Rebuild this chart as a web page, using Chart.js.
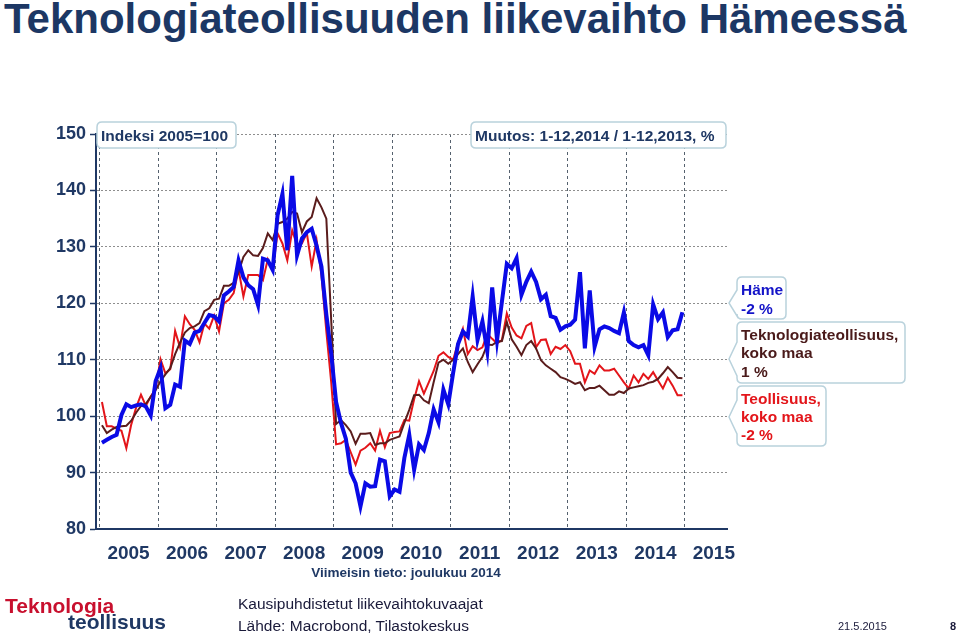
<!DOCTYPE html>
<html>
<head>
<meta charset="utf-8">
<script src="https://cdn.jsdelivr.net/npm/chart.js@4"></script>
<style>
  body { margin: 0; background: #fff; }
  #wrap { position: relative; width: 960px; height: 635px; overflow: hidden; font-family: "Liberation Sans", Arial, sans-serif; }
  #chart { position: absolute; left: 0; top: 0; }
  #notes { position: absolute; left: 0; top: 0; }
  .txt { position: absolute; white-space: nowrap; }
</style>
</head>
<body>
<div id="wrap">
  <div class="txt" style="left:4px;top:-5px;font-size:42px;font-weight:bold;color:#1c3764;">Teknologiateollisuuden liikevaihto Hämeessä</div>
  <canvas id="chart" width="960" height="635"></canvas>
  <svg id="notes" width="960" height="635"></svg>
  <div class="txt" style="left:0;width:812px;top:565px;text-align:center;font-size:13.5px;font-weight:bold;color:#1f3864;">Viimeisin tieto: joulukuu 2014</div>
  <div class="txt" style="left:5px;top:594px;font-size:21px;font-weight:bold;color:#c8102e;">Teknologia</div>
  <div class="txt" style="left:68px;top:610px;font-size:21px;font-weight:bold;color:#1f3864;">teollisuus</div>
  <div class="txt" style="left:238px;top:595px;font-size:15.5px;color:#1a1a3a;">Kausipuhdistetut liikevaihtokuvaajat</div>
  <div class="txt" style="left:238px;top:617px;font-size:15.5px;color:#1a1a3a;">Lähde: Macrobond, Tilastokeskus</div>
  <div class="txt" style="left:838px;top:620px;font-size:11px;color:#1a1a3a;">21.5.2015</div>
  <div class="txt" style="left:950px;top:620px;font-size:11px;font-weight:bold;color:#1a1a3a;">8</div>
</div>
<script>
// Monthly index values, 2005=100 (Jan 2005 .. Dec 2014)
const startYear = 2005;
const yearLabels = ['2005', '2006', '2007', '2008', '2009', '2010', '2011', '2012', '2013', '2014', '2015'];
const yTicks = [80, 90, 100, 110, 120, 130, 140, 150];

const hame = [
    95.3, 95.8, 96.3, 96.7, 100.2, 102.1, 101.6, 101.9, 102.1, 101.7, 100.1, 106.2,
    108.5, 101.4, 102.0, 105.6, 105.2, 113.4, 112.8, 114.8, 115.1, 116.5, 117.9, 117.7,
    116.8, 121.4, 122.1, 122.9, 127.6, 124.6, 123.2, 122.5, 119.7, 127.9, 127.6, 125.9,
    135.6, 139.4, 129.4, 142.6, 128.5, 131.5, 132.6, 133.2, 130.2, 126.5, 118.0, 111.0,
    102.5, 98.8, 96.0, 90.0, 88.1, 84.0, 88.1, 87.5, 87.6, 92.3, 92.0, 85.8,
    87.0, 86.6, 92.6, 96.7, 90.5, 95.0, 94.0, 97.0, 101.2, 98.9, 104.7, 102.1,
    107.7, 112.8, 115.0, 114.1, 121.2, 113.5, 116.8, 111.5, 122.8, 113.5, 120.3, 127.0,
    126.2, 128.0, 121.5, 123.8, 125.6, 123.8, 120.7, 121.5, 117.7, 117.4, 115.3, 115.9,
    116.2, 117.1, 125.5, 112.0, 122.3, 112.3, 115.4, 115.9, 115.6, 115.1, 114.7, 118.4,
    113.3, 112.6, 112.2, 112.6, 110.8, 119.8, 117.2, 118.4, 114.0, 115.2, 115.4, 118.4
];

const tekno = [
    98.4, 97.0, 97.6, 98.1, 98.2, 98.3, 99.2, 100.6, 101.8, 102.2, 103.4, 104.6,
    106.2, 107.4, 108.5, 111.0, 113.0, 114.8, 115.6, 115.9, 116.5, 118.6, 119.1, 120.6,
    120.8, 123.1, 123.1, 123.6, 125.5, 128.2, 129.4, 128.5, 128.4, 129.8, 132.4, 131.2,
    134.1, 134.4, 135.0, 136.2, 135.9, 132.6, 134.5, 135.3, 138.6, 137.0, 135.0, 117.0,
    98.6, 99.3, 98.4, 97.3, 95.1, 96.9, 96.9, 97.0, 94.9, 95.2, 95.2, 95.8,
    96.1, 96.4, 98.8, 101.1, 103.7, 103.8, 102.8, 102.3, 106.0, 109.5, 110.0, 109.3,
    110.0, 111.0, 112.0, 109.6, 107.8, 109.2, 110.5, 112.7, 112.6, 113.2, 113.3, 116.7,
    113.6, 112.3, 110.8, 112.6, 113.3, 112.0, 109.9, 109.0, 108.4, 107.8, 106.9, 106.6,
    106.2, 105.7, 106.0, 104.6, 105.0, 105.0, 105.4, 104.6, 103.8, 103.8, 104.4, 104.1,
    104.9, 105.1, 105.3, 105.5, 105.9, 106.1, 106.6, 107.6, 108.7, 107.8, 106.8, 106.7
];

const teoll = [
    102.5, 98.2, 98.2, 97.8, 97.4, 94.3, 98.5, 101.5, 103.8, 101.8, 103.5, 104.8,
    110.1, 107.6, 108.3, 115.1, 112.2, 117.7, 116.3, 115.3, 113.1, 116.4, 115.5, 117.8,
    115.0, 120.0, 120.6, 121.8, 126.0, 121.2, 125.0, 125.0, 125.0, 124.1, 127.8, 125.9,
    132.4, 130.6, 127.6, 132.9, 130.3, 130.6, 132.5, 126.5, 131.2, 125.0, 115.0, 106.0,
    95.0, 95.2, 95.8, 93.6, 91.4, 93.9, 94.4, 95.2, 93.9, 97.4, 94.5, 97.0,
    97.2, 97.3, 99.3, 99.2, 103.0, 106.2, 104.0, 106.0, 108.0, 110.7, 111.3, 110.5,
    110.0, 113.0, 115.5, 111.0, 112.4, 111.7, 112.2, 114.6, 113.7, 112.9, 113.5, 118.2,
    115.7, 114.3, 113.8, 116.0, 116.5, 112.2, 113.5, 113.6, 111.0, 112.3, 111.9, 112.6,
    111.5, 109.3, 109.3, 106.0, 108.1, 107.5, 109.0, 108.1, 108.1, 108.4, 107.2, 106.0,
    104.9, 107.2, 106.0, 107.5, 106.6, 107.8, 106.3, 104.9, 106.8, 105.4, 103.7, 103.7
];

const NAVY = '#1f3864';
const FONT = '"Liberation Sans", Arial, sans-serif';

// month i sits in the middle of its month on a decimal-year axis
function toPoints(values) {
    return values.map((v, i) => ({ x: startYear + (i + 0.5) / 12, y: v }));
}

function lineSet(label, values, color, width) {
    return {
        label: label,
        data: toPoints(values),
        borderColor: color,
        borderWidth: width,
        pointRadius: 0,
        tension: 0,
        fill: false
    };
}

new Chart(document.getElementById('chart').getContext('2d'), {
    type: 'line',
    data: {
        datasets: [
            lineSet('Häme', hame, '#0a0ae6', 4),
            lineSet('Teknologiateollisuus, koko maa', tekno, '#5a1c1c', 2),
            lineSet('Teollisuus, koko maa', teoll, '#e3151a', 2)
        ]
    },
    options: {
        responsive: false,
        animation: false,
        layout: { padding: { left: 0, top: 134, right: 233, bottom: 0 } },
        plugins: { legend: { display: false }, tooltip: { enabled: false } },
        scales: {
            x: {
                type: 'linear',
                min: 2004.94,
                max: 2015.72,
                afterBuildTicks: s => { s.ticks = yearLabels.map(y => ({ value: Number(y) })); },
                afterFit: s => { s.height = 106; },
                ticks: {
                    autoSkip: false,
                    maxRotation: 0,
                    labelOffset: 29,
                    padding: 13,
                    color: NAVY,
                    font: { family: FONT, size: 19, weight: 'bold' },
                    callback: v => String(v)
                },
                grid: { color: '#55616e', lineWidth: 1, drawTicks: false },
                border: { display: true, color: NAVY, width: 2, dash: [3, 3] }
            },
            y: {
                min: 80,
                max: 150,
                afterBuildTicks: s => { s.ticks = yTicks.map(v => ({ value: v })); },
                afterFit: s => { s.width = 96; },
                ticks: {
                    padding: 4,
                    color: NAVY,
                    font: { family: FONT, size: 18, weight: 'bold' }
                },
                grid: {
                    color: '#8e8e8e',
                    lineWidth: 1,
                    tickLength: 6,
                    tickColor: NAVY,
                    tickWidth: 1.5,
                    tickBorderDash: []
                },
                border: { display: true, color: NAVY, width: 2, dash: [2, 2] }
            }
        }
    }
});

// label boxes and callouts (svg so the text stays text)
const svg = document.getElementById('notes');
const NS = 'http://www.w3.org/2000/svg';

function boxPath(x0, y0, x1, y1, r, tip) {
    let d = `M${x0 + r},${y0} H${x1 - r} Q${x1},${y0} ${x1},${y0 + r} V${y1 - r} Q${x1},${y1} ${x1 - r},${y1} H${x0 + r} Q${x0},${y1} ${x0},${y1 - r}`;
    if (tip) {
        d += ` V${tip.y + tip.n} L${tip.x},${tip.y} L${x0},${tip.y - tip.n}`;
    }
    d += ` V${y0 + r} Q${x0},${y0} ${x0 + r},${y0} Z`;
    return d;
}

function addBox(x0, y0, x1, y1, tip) {
    const p = document.createElementNS(NS, 'path');
    p.setAttribute('d', boxPath(x0, y0, x1, y1, 5, tip));
    p.setAttribute('fill', '#ffffff');
    p.setAttribute('stroke', '#b9d2dc');
    p.setAttribute('stroke-width', '1.5');
    svg.appendChild(p);
}

function addText(x, y, str, color, size) {
    const t = document.createElementNS(NS, 'text');
    t.setAttribute('x', x);
    t.setAttribute('y', y);
    t.setAttribute('fill', color);
    t.setAttribute('font-family', FONT);
    t.setAttribute('font-size', size);
    t.setAttribute('font-weight', 'bold');
    t.textContent = str;
    svg.appendChild(t);
}

addBox(97, 122, 236, 148);
addText(101, 141, 'Indeksi 2005=100', NAVY, 15.5);
addBox(471, 122, 726, 148);
addText(475, 141, 'Muutos: 1-12,2014 / 1-12,2013, %', NAVY, 15.5);

addBox(737, 277, 786, 319, { x: 729, y: 303, n: 13 });
addText(741, 295, 'Häme', '#1414c8', 15.5);
addText(741, 314, '-2 %', '#1414c8', 15.5);

addBox(737, 322, 905, 383, { x: 729, y: 359, n: 17 });
addText(741, 340, 'Teknologiateollisuus,', '#4a1a1a', 15.5);
addText(741, 358, 'koko maa', '#4a1a1a', 15.5);
addText(741, 377, '1 %', '#4a1a1a', 15.5);

addBox(737, 386, 826, 446, { x: 729, y: 417, n: 17 });
addText(741, 404, 'Teollisuus,', '#e3151a', 15.5);
addText(741, 422, 'koko maa', '#e3151a', 15.5);
addText(741, 440, '-2 %', '#e3151a', 15.5);
</script>
</body>
</html>
